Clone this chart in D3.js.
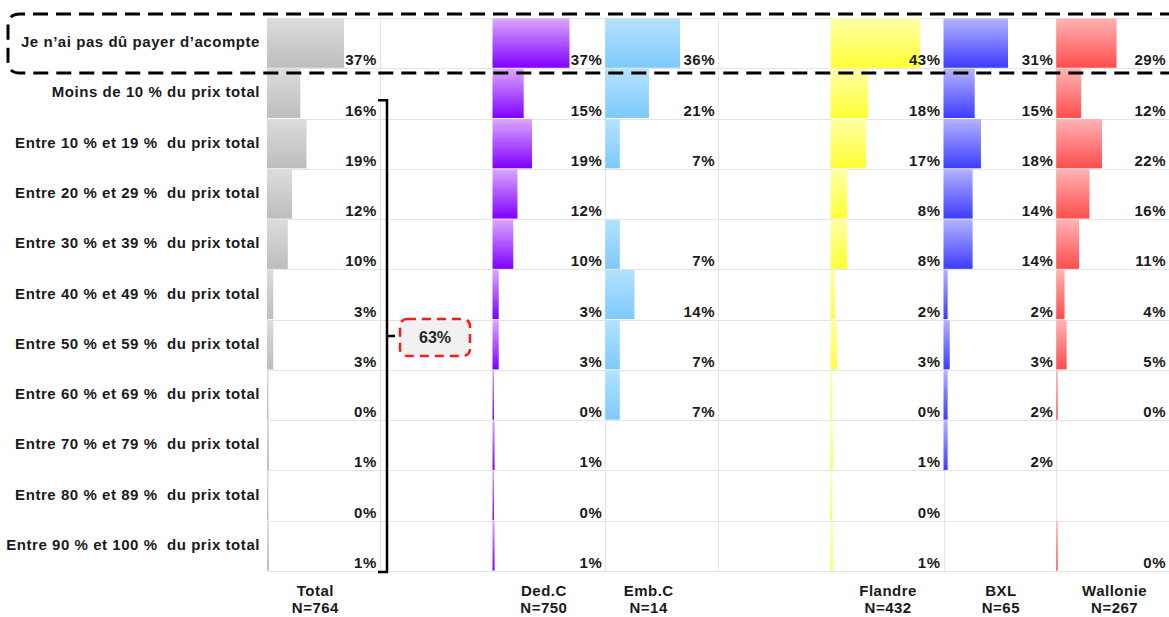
<!DOCTYPE html>
<html>
<head>
<meta charset="utf-8">
<script src="https://cdn.jsdelivr.net/npm/d3@7"></script>
<style>
  body { margin: 0; background: #fff; }
  svg { display: block; font-family: "Liberation Sans", Arial, sans-serif; }
  .rowlab { font-weight: bold; font-size: 15px; letter-spacing: 0.55px; fill: #1a1a1a; white-space: pre; }
  .val { font-weight: bold; font-size: 15px; letter-spacing: 0.5px; fill: #1a1a1a; }
  .colhead { font-weight: bold; font-size: 15px; letter-spacing: 0.5px; fill: #1a1a1a; }
</style>
</head>
<body>
<div id="chart"></div>
<script>
// DATA
var categories = [
  "Je n\u2019ai pas d\u00fb payer d\u2019acompte",
  "Moins de 10 % du prix total",
  "Entre 10 % et 19 %  du prix total",
  "Entre 20 % et 29 %  du prix total",
  "Entre 30 % et 39 %  du prix total",
  "Entre 40 % et 49 %  du prix total",
  "Entre 50 % et 59 %  du prix total",
  "Entre 60 % et 69 %  du prix total",
  "Entre 70 % et 79 %  du prix total",
  "Entre 80 % et 89 %  du prix total",
  "Entre 90 % et 100 %  du prix total"
];
var columns = ["Total", "gap1", "Ded.C", "Emb.C", "gap2", "Flandre", "BXL", "Wallonie"];
var columnN = { "Total": 764, "Ded.C": 750, "Emb.C": 14, "Flandre": 432, "BXL": 65, "Wallonie": 267 };

var total    = [37, 16, 19, 12, 10, 3, 3, 0, 1, 0, 1];
var dedC     = [37, 15, 19, 12, 10, 3, 3, 0, 1, 0, 1];
var embC     = [36, 21, 7, null, 7, 14, 7, 7, null, null, null];
var flandre  = [43, 18, 17, 8, 8, 2, 3, 0, 1, 0, 1];
var bxl      = [31, 15, 18, 14, 14, 2, 3, 2, 2, null, null];
var wallonie = [29, 12, 22, 16, 11, 4, 5, 0, null, null, 0];

var bracketLabel = "63%";

var series = [
  { col: "Total",    values: total,    top: "#dcdcdc", bottom: "#bdbdbd" },
  { col: "Ded.C",    values: dedC,     top: "#dca6ff", bottom: "#7f00ff" },
  { col: "Emb.C",    values: embC,     top: "#b5e2ff", bottom: "#7dc9fb" },
  { col: "Flandre",  values: flandre,  top: "#ffffa6", bottom: "#ffff33" },
  { col: "BXL",      values: bxl,      top: "#b3b3ff", bottom: "#3c3cff" },
  { col: "Wallonie", values: wallonie, top: "#ffb3b3", bottom: "#ff4d4d" }
];

// SETUP
var W = 1169, H = 617;
var svg = d3.select("#chart").append("svg").attr("width", W).attr("height", H);

var x = d3.scaleBand().domain(columns).range([267, 1169]);
var y = d3.scaleBand().domain(d3.range(categories.length)).range([18, 571]);
var w = d3.scaleLinear().domain([0, 100]).range([0, 208]);

// header nudges (labels sit slightly off-centre in the original)
var headDx = { "Total": -8, "Ded.C": -5, "Emb.C": -13, "Flandre": 1, "BXL": 1, "Wallonie": 2 };

var defs = svg.append("defs");
series.forEach(function(s, i) {
  var g = defs.append("linearGradient").attr("id", "grad" + i)
    .attr("x1", 0).attr("y1", 0).attr("x2", 0).attr("y2", 1);
  g.append("stop").attr("offset", "0%").attr("stop-color", s.top);
  g.append("stop").attr("offset", "100%").attr("stop-color", s.bottom);
});

// grid
var grid = svg.append("g").attr("stroke", "#e4e4e4").attr("stroke-width", 1);
grid.selectAll("line.h").data(d3.range(categories.length + 1)).enter().append("line")
  .attr("x1", 267).attr("x2", W)
  .attr("y1", function(d) { return Math.round(18 + d * y.step()) + 0.5; })
  .attr("y2", function(d) { return Math.round(18 + d * y.step()) + 0.5; });
grid.selectAll("line.v").data(columns).enter().append("line")
  .attr("x1", function(d) { return Math.round(x(d)) + 0.5; })
  .attr("x2", function(d) { return Math.round(x(d)) + 0.5; })
  .attr("y1", 18).attr("y2", 571);

// bars + values
var data_layer = svg.append("g");
series.forEach(function(s, i) {
  var g = data_layer.append("g");
  var pts = s.values.map(function(v, r) { return { v: v, r: r }; }).filter(function(d) { return d.v !== null; });
  g.selectAll("rect").data(pts).enter().append("rect")
    .attr("x", x(s.col))
    .attr("y", function(d) { return y(d.r) + 0.5; })
    .attr("width", function(d) { return Math.max(1.5, w(d.v)); })
    .attr("height", y.bandwidth() - 1)
    .attr("fill", "url(#grad" + i + ")");
  g.selectAll("text").data(pts).enter().append("text")
    .attr("class", "val")
    .attr("x", x(s.col) + x.bandwidth() - 3)
    .attr("y", function(d) { return y(d.r) + y.bandwidth() - 3; })
    .attr("text-anchor", "end")
    .text(function(d) { return d.v + "%"; });
});

// row labels
svg.append("g").selectAll("text").data(categories).enter().append("text")
  .attr("class", "rowlab")
  .attr("x", 260)
  .attr("y", function(d, i) { return y(i) + y.bandwidth() / 2 + 4; })
  .attr("text-anchor", "end")
  .text(function(d) { return d; });

// column headers
var heads = svg.append("g").selectAll("text").data(series).enter().append("text")
  .attr("class", "colhead")
  .attr("text-anchor", "middle")
  .attr("transform", function(s) { return "translate(" + (x(s.col) + x.bandwidth() / 2 + headDx[s.col]) + ",0)"; });
heads.append("tspan").attr("x", 0).attr("y", 596).text(function(s) { return s.col; });
heads.append("tspan").attr("x", 0).attr("y", 613).text(function(s) { return "N=" + columnN[s.col]; });

// dashed highlight round the first row
svg.append("path")
  .attr("d", "M1175,14 H20 Q8,14 8,26 V61 Q8,73 20,73 H1175")
  .attr("fill", "none").attr("stroke", "#000").attr("stroke-width", 3)
  .attr("stroke-dasharray", "15,8");

// bracket over the rows that paid a deposit
var bx = 387, by0 = y(1) + 32, by1 = y(categories.length - 1) + y.bandwidth() + 1, bmid = 336;
svg.append("path")
  .attr("d", "M378," + by0 + " H" + bx + " V" + by1 + " H378 M" + bx + "," + bmid + " H395")
  .attr("fill", "none").attr("stroke", "#000").attr("stroke-width", 2.5);

svg.append("rect")
  .attr("x", 400).attr("y", 319).attr("width", 70).attr("height", 37).attr("rx", 7)
  .attr("fill", "#f1f1f1").attr("stroke", "#ff1a1a").attr("stroke-width", 2.5)
  .attr("stroke-dasharray", "9,6");
svg.append("text")
  .attr("x", 435).attr("y", 343).attr("text-anchor", "middle")
  .style("font-size", "16px").style("font-weight", "bold").style("fill", "#262626")
  .text(bracketLabel);
</script>
</body>
</html>
